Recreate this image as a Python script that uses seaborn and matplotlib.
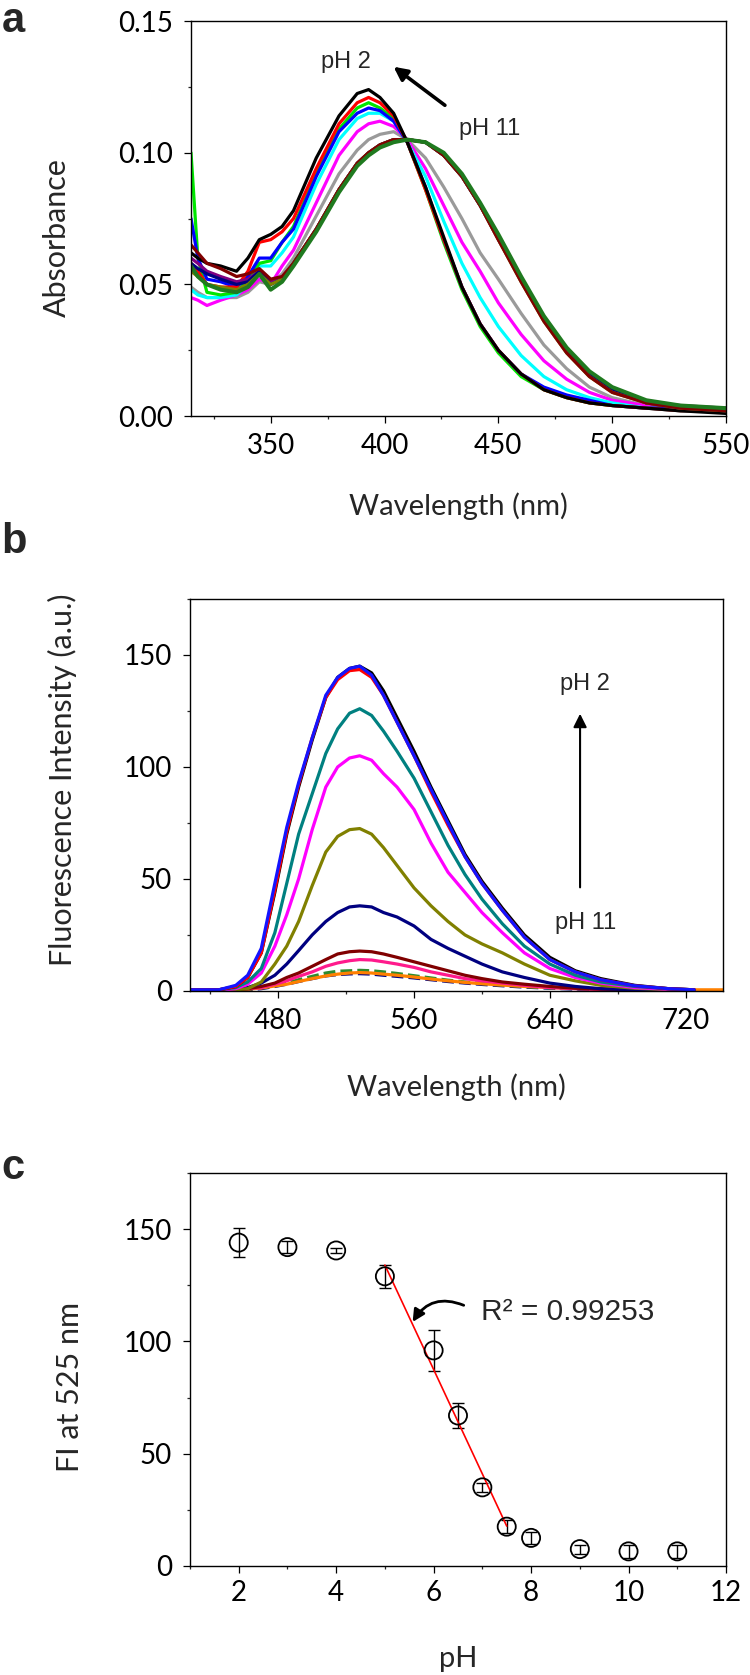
import numpy as np
import pandas as pd
import matplotlib
matplotlib.use("Agg")
import matplotlib.pyplot as plt
from matplotlib.ticker import MultipleLocator, FormatStrFormatter
import seaborn as sns

sns.set_style("ticks")
plt.rcParams['font.family'] = ['Lato', 'DejaVu Sans']
ANNO_FONT = ['Liberation Sans', 'DejaVu Sans']

# ---------------- panel a : absorbance spectra ----------------
A_WL = [315, 318, 322, 328, 335, 340, 345, 350, 355, 360, 370, 380, 388, 393, 398,
        404, 410, 418, 426, 434, 442, 450, 460, 470, 480, 490, 500, 515, 530, 550]
a_gray = [0.049, 0.047, 0.045, 0.045, 0.045, 0.047, 0.051, 0.050, 0.054, 0.060, 0.076, 0.092, 0.101, 0.105, 0.107,
          0.108, 0.105, 0.098, 0.087, 0.075, 0.062, 0.052, 0.039, 0.027, 0.018, 0.011, 0.007, 0.004, 0.003, 0.002]
a_magenta = [0.045, 0.044, 0.042, 0.044, 0.046, 0.048, 0.052, 0.050, 0.057, 0.063, 0.081, 0.099, 0.108, 0.111, 0.112,
             0.110, 0.105, 0.094, 0.080, 0.066, 0.055, 0.043, 0.031, 0.021, 0.014, 0.009, 0.006, 0.004, 0.003, 0.002]
a_cyan = [0.048, 0.046, 0.045, 0.045, 0.046, 0.050, 0.057, 0.057, 0.062, 0.068, 0.088, 0.105, 0.113, 0.115, 0.115,
          0.112, 0.104, 0.091, 0.074, 0.058, 0.045, 0.034, 0.023, 0.015, 0.010, 0.007, 0.005, 0.003, 0.002, 0.002]
a_green = [0.100, 0.060, 0.047, 0.046, 0.047, 0.052, 0.058, 0.059, 0.066, 0.072, 0.092, 0.109, 0.117, 0.119, 0.117,
           0.113, 0.104, 0.086, 0.066, 0.048, 0.034, 0.024, 0.015, 0.010, 0.007, 0.005, 0.004, 0.003, 0.003, 0.002]
a_blue = [0.075, 0.060, 0.052, 0.051, 0.049, 0.053, 0.060, 0.060, 0.066, 0.071, 0.091, 0.108, 0.115, 0.117, 0.116,
          0.112, 0.104, 0.087, 0.067, 0.049, 0.035, 0.025, 0.016, 0.011, 0.008, 0.006, 0.004, 0.003, 0.003, 0.002]
a_red = [0.058, 0.055, 0.050, 0.049, 0.049, 0.055, 0.066, 0.067, 0.070, 0.075, 0.094, 0.111, 0.119, 0.121, 0.119,
         0.114, 0.104, 0.086, 0.067, 0.049, 0.035, 0.025, 0.016, 0.010, 0.007, 0.005, 0.004, 0.003, 0.002, 0.002]
a_black = [0.062, 0.060, 0.058, 0.057, 0.055, 0.060, 0.067, 0.069, 0.072, 0.078, 0.098, 0.114, 0.1225, 0.124, 0.121,
           0.115, 0.104, 0.087, 0.068, 0.049, 0.035, 0.025, 0.016, 0.010, 0.007, 0.005, 0.004, 0.003, 0.002, 0.001]
a_purple = [0.060, 0.058, 0.055, 0.053, 0.051, 0.052, 0.055, 0.051, 0.052, 0.058, 0.071, 0.086, 0.096, 0.100, 0.103,
            0.105, 0.105, 0.104, 0.099, 0.091, 0.080, 0.067, 0.052, 0.037, 0.025, 0.016, 0.010, 0.005, 0.004, 0.003]
a_navy = [0.058, 0.056, 0.054, 0.052, 0.050, 0.051, 0.055, 0.050, 0.052, 0.058, 0.071, 0.086, 0.096, 0.100, 0.103,
          0.105, 0.105, 0.104, 0.099, 0.091, 0.080, 0.068, 0.052, 0.037, 0.025, 0.016, 0.010, 0.005, 0.003, 0.002]
a_olive = [0.055, 0.053, 0.050, 0.049, 0.048, 0.050, 0.054, 0.050, 0.052, 0.058, 0.071, 0.086, 0.096, 0.100, 0.103,
           0.105, 0.105, 0.104, 0.099, 0.091, 0.080, 0.067, 0.051, 0.036, 0.024, 0.015, 0.009, 0.005, 0.003, 0.002]
a_maroon = [0.065, 0.062, 0.058, 0.056, 0.053, 0.054, 0.056, 0.052, 0.053, 0.058, 0.071, 0.086, 0.096, 0.100, 0.103,
            0.105, 0.105, 0.104, 0.099, 0.091, 0.080, 0.067, 0.051, 0.036, 0.024, 0.015, 0.009, 0.005, 0.003, 0.002]
a_dkgreen = [0.057, 0.053, 0.050, 0.048, 0.047, 0.049, 0.054, 0.048, 0.051, 0.057, 0.070, 0.085, 0.095, 0.099, 0.102,
             0.104, 0.105, 0.104, 0.100, 0.092, 0.081, 0.069, 0.053, 0.038, 0.026, 0.017, 0.011, 0.006, 0.004, 0.003]

# drawing order (last on top), colour, line width
a_curves = [
    (a_gray, '#9a9a9a', 2.3), (a_magenta, '#ff00ff', 2.3), (a_cyan, '#00ffff', 2.3),
    (a_green, '#00e600', 2.3), (a_blue, '#0000ff', 2.3), (a_red, '#ff0000', 2.3),
    (a_black, '#000000', 2.3), (a_purple, '#800080', 2.3), (a_navy, '#000080', 2.3),
    (a_olive, '#808000', 2.3), (a_maroon, '#800000', 2.3), (a_dkgreen, '#1f7a1f', 2.9),
]

# ---------------- panel b : fluorescence spectra ----------------
B_WL = [428, 445, 455, 462, 470, 478, 485, 492, 500, 508, 515, 522, 528, 535, 542,
        550, 560, 570, 580, 590, 600, 612, 625, 640, 655, 670, 690, 710, 725]
b_black = [0.5, 0.5, 2, 6, 17, 44, 70, 91, 112, 131, 140, 144, 145, 142, 134,
           122, 107, 91, 76, 61, 49, 37, 25, 15, 9, 5.5, 2.5, 1, 0.5]
b_red = [0.5, 0.5, 2, 6, 17, 45, 71, 92, 113, 131, 139, 143, 143.5, 140, 132,
         120, 105, 89, 74, 60, 48, 36, 24, 14, 8.5, 5, 2.3, 1, 0.5]
b_blue = [0.5, 0.5, 2.5, 7, 19, 48, 73, 93, 113, 132, 140, 144, 145, 141, 132,
          120, 105, 90, 75, 60, 48, 36, 24, 14, 8.5, 5, 2.3, 1, 0.5]
b_teal = [0.5, 0.5, 1.5, 4, 10, 26, 48, 70, 88, 106, 117, 124, 126, 123, 116,
          107, 95, 80, 65, 52, 41, 30, 20, 12, 7, 4, 2, 1, 0.5]
b_magenta = [0.3, 0.3, 1, 3, 8, 20, 34, 50, 72, 91, 100, 104, 105, 103, 97,
             91, 81, 66, 53, 44, 35, 26, 17, 10, 6, 3.5, 1.5, 0.7, 0.3]
b_olive = [0.3, 0.3, 0.5, 1, 4, 12, 20, 31, 47, 62, 69, 72, 72.5, 70, 64,
           56, 46, 38, 31, 25, 21, 17, 12, 7, 4.5, 2.5, 1.2, 0.5, 0.3]
b_navy = [0.3, 0.3, 0.5, 1.5, 3.5, 7, 12, 18, 25, 31, 35, 37.5, 38, 37.5, 35,
          33, 29, 23, 19, 15.5, 12, 8.5, 6, 3.5, 2, 1, 0.5, 0.3, 0.2]
b_maroon = [0.3, 0.3, 0.5, 1, 2, 3.5, 6, 8, 11, 14, 16.5, 17.5, 17.8, 17.5, 16.5,
            15, 13, 11, 9, 7, 5.5, 4, 3, 2, 1.2, 0.8, 0.5, 0.3, 0.2]
b_pink = [0.3, 0.3, 0.5, 1, 1.5, 3, 4.5, 6.5, 8.5, 11, 12.5, 13.5, 14, 13.8, 13,
          12, 10.5, 8.5, 7, 5.5, 4.5, 3.5, 2.5, 1.5, 1, 0.6, 0.4, 0.3, 0.2]
b_green_dash = [0.3, 0.3, 0.4, 0.8, 1.5, 2.5, 3.5, 5, 6.5, 8, 8.8, 9, 9.2, 9, 8.5,
                7.8, 6.8, 5.8, 4.8, 4, 3.3, 2.6, 2, 1.4, 1, 0.7, 0.5, 0.3, 0.2]
b_navy_dash = [0.2, 0.2, 0.3, 0.5, 1, 2, 3, 4.2, 5.5, 6.7, 7.3, 7.6, 7.7, 7.5, 7,
               6.5, 5.8, 5, 4.2, 3.5, 2.9, 2.3, 1.7, 1.2, 0.8, 0.6, 0.4, 0.2, 0.2]
ORANGE_WL = B_WL + [742]
b_orange = [0.5, 0.5, 0.5, 0.8, 1.3, 2.2, 3, 4.2, 5.5, 6.7, 7.5, 8, 8.2, 8, 7.5,
            7, 6.2, 5.3, 4.5, 3.8, 3.2, 2.6, 2, 1.5, 1.2, 0.9, 0.7, 0.6, 0.5, 0.5]

b_curves = [
    (B_WL, b_navy_dash, '#000080', '--'), (B_WL, b_green_dash, '#2e8b2e', '--'),
    (ORANGE_WL, b_orange, '#ff8000', '-'), (B_WL, b_pink, '#ff1a8c', '-'),
    (B_WL, b_maroon, '#800000', '-'), (B_WL, b_navy, '#000080', '-'),
    (B_WL, b_olive, '#808000', '-'), (B_WL, b_magenta, '#ff00ff', '-'),
    (B_WL, b_teal, '#008080', '-'), (B_WL, b_black, '#000000', '-'),
    (B_WL, b_red, '#ff0000', '-'), (B_WL, b_blue, '#1414ff', '-'),
]

# ---------------- panel c : FI at 525 nm vs pH ----------------
PH = [2, 3, 4, 5, 6, 6.5, 7, 7.5, 8, 9, 10, 11]
FI = [144, 142, 140.5, 129, 96, 67, 35, 17.5, 12.5, 7.5, 6.5, 6.5]
FI_ERR = [6.5, 2.5, 1, 5, 9, 5.5, 2, 3, 2.5, 2, 3, 3]
FIT_RANGE = (3, 8)   # pH 5 .. 7.5 used for the linear fit
R2_TEXT = 'R² = 0.99253'

fig = plt.figure(figsize=(7.5, 16.75), dpi=100)
ax_a = fig.add_axes([0.2547, 0.7516, 0.7133, 0.2358])
ax_b = fig.add_axes([0.2533, 0.4084, 0.7107, 0.2340])
ax_c = fig.add_axes([0.2533, 0.0651, 0.7147, 0.2346])


def style_axes(ax, pad_x=7, pad_y=8):
    for sp in ax.spines.values():
        sp.set_visible(True)
        sp.set_linewidth(1.0)
        sp.set_color('black')
    ax.tick_params(which='major', direction='out', length=5, width=0.9,
                   labelsize=20, colors='black')
    ax.tick_params(which='minor', direction='out', length=2.5, width=0.9)
    ax.tick_params(axis='x', pad=pad_x)
    ax.tick_params(axis='y', pad=pad_y)
    ax.tick_params(top=False, right=False, which='both')


# panel a
for vals, col, lw in a_curves:
    sns.lineplot(x=A_WL, y=vals, color=col, lw=lw, ax=ax_a, estimator=None, sort=False)
ax_a.set_xlim(315, 550)
ax_a.set_ylim(0, 0.15)
ax_a.xaxis.set_major_locator(MultipleLocator(50))
ax_a.xaxis.set_minor_locator(MultipleLocator(25))
ax_a.yaxis.set_major_locator(MultipleLocator(0.05))
ax_a.yaxis.set_minor_locator(MultipleLocator(0.025))
ax_a.yaxis.set_major_formatter(FormatStrFormatter('%.2f'))
style_axes(ax_a)
ax_a.set_xlabel('Wavelength (nm)', fontsize=21)
ax_a.set_ylabel('Absorbance', fontsize=22)
ax_a.xaxis.set_label_coords(0.5, -0.228)
ax_a.yaxis.set_label_coords(-0.25, 0.453)
ax_a.xaxis.label.set_va('center')
ax_a.yaxis.label.set_va('center')
ax_a.annotate('', xy=(403, 0.1333), xytext=(427.5, 0.1174),
              arrowprops=dict(arrowstyle='-|>', lw=2.6, color='black', mutation_scale=20))
ax_a.text(383, 0.1344, 'pH 2', ha='center', va='center', fontsize=17, family=ANNO_FONT)
ax_a.text(446, 0.109, 'pH 11', ha='center', va='center', fontsize=17, family=ANNO_FONT)

# panel b
for wl, vals, col, ls in b_curves:
    sns.lineplot(x=wl, y=vals, color=col, lw=2.3, ls=ls, ax=ax_b, estimator=None, sort=False)
ax_b.set_xlim(428, 742)
ax_b.set_ylim(0, 175)
ax_b.xaxis.set_major_locator(MultipleLocator(80))
ax_b.xaxis.set_minor_locator(MultipleLocator(40))
ax_b.yaxis.set_major_locator(MultipleLocator(50))
ax_b.yaxis.set_minor_locator(MultipleLocator(25))
style_axes(ax_b)
ax_b.set_xlabel('Wavelength (nm)', fontsize=21)
ax_b.set_ylabel('Fluorescence Intensity (a.u.)', fontsize=22)
ax_b.xaxis.set_label_coords(0.5, -0.245)
ax_b.yaxis.set_label_coords(-0.24, 0.54)
ax_b.xaxis.label.set_va('center')
ax_b.yaxis.label.set_va('center')
ax_b.annotate('', xy=(657.8, 125), xytext=(657.8, 45),
              arrowprops=dict(arrowstyle='-|>', lw=1.5, color='black', mutation_scale=20))
ax_b.text(660.8, 137, 'pH 2', ha='center', va='center', fontsize=17, family=ANNO_FONT)
ax_b.text(660.8, 30.5, 'pH 11', ha='center', va='center', fontsize=17, family=ANNO_FONT)

# panel c
ax_c.errorbar(PH, FI, yerr=FI_ERR, fmt='none', ecolor='black', elinewidth=1.0,
              capsize=4, capthick=1.0, zorder=2)
sns.scatterplot(x=PH, y=FI, marker='o', s=170, ax=ax_c, zorder=3)
pts = ax_c.collections[-1]
pts.set_facecolor('none')
pts.set_edgecolor('black')
pts.set_linewidth(1.3)
lo, hi = FIT_RANGE
sns.regplot(x=PH[lo:hi], y=FI[lo:hi], scatter=False, ci=None, truncate=True,
            color='red', line_kws=dict(lw=1.2), ax=ax_c)
ax_c.set_xlim(1, 12)
ax_c.set_ylim(0, 175)
ax_c.xaxis.set_major_locator(MultipleLocator(2))
ax_c.xaxis.set_minor_locator(MultipleLocator(1))
ax_c.yaxis.set_major_locator(MultipleLocator(50))
ax_c.yaxis.set_minor_locator(MultipleLocator(25))
style_axes(ax_c, pad_x=5)
ax_c.set_xlabel('pH', fontsize=21)
ax_c.set_ylabel('FI at 525 nm', fontsize=22)
ax_c.xaxis.set_label_coords(0.5, -0.237)
ax_c.yaxis.set_label_coords(-0.224, 0.455)
ax_c.xaxis.label.set_va('center')
ax_c.yaxis.label.set_va('center')
ax_c.annotate('', xy=(5.54, 107.6), xytext=(6.67, 115.6),
              arrowprops=dict(arrowstyle='-|>', lw=2.0, color='black', mutation_scale=18,
                              connectionstyle='arc3,rad=0.45'))
ax_c.text(6.97, 113, R2_TEXT, ha='left', va='center', fontsize=21.5, family=ANNO_FONT)

# panel letters
fig.text(0.002, 0.9995, 'a', fontsize=30, fontweight='bold', family=ANNO_FONT,
         ha='left', va='top')
for letter, ypix in [('b', 553), ('c', 1179)]:
    fig.text(0.002, 1 - ypix / 1675, letter, fontsize=30, fontweight='bold',
             family=ANNO_FONT, ha='left', va='baseline')

fig.savefig('out.png', dpi=100)
